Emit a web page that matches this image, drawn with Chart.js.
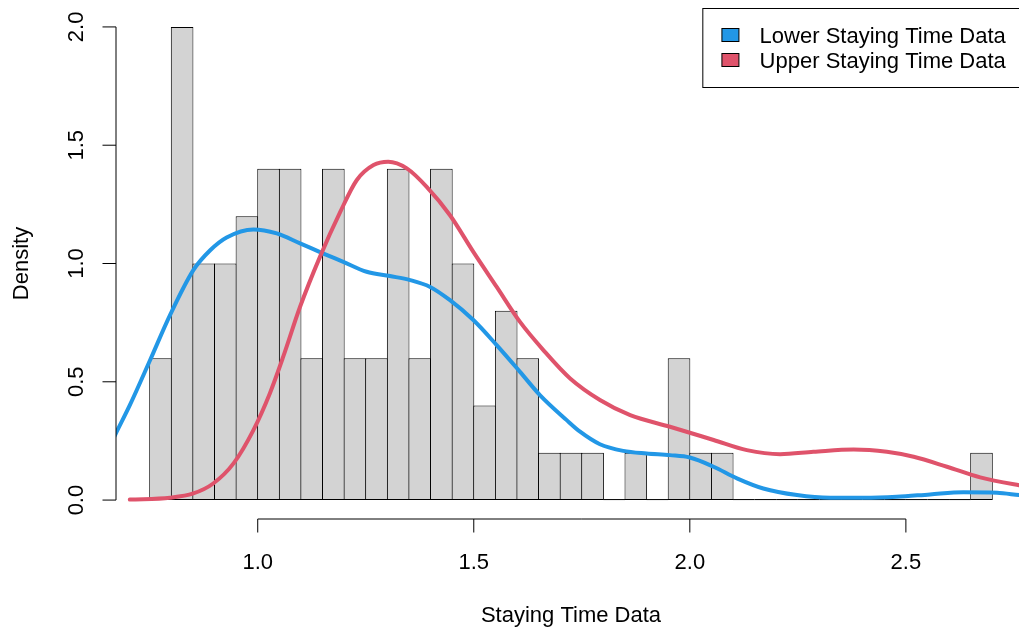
<!DOCTYPE html>
<html>
<head>
<meta charset="utf-8">
<script src="https://cdn.jsdelivr.net/npm/chart.js@4.4.1/dist/chart.umd.min.js"></script>
<style>
  html, body { margin: 0; padding: 0; background: #fff; overflow: hidden; }
  canvas { display: block; }
</style>
</head>
<body>
<canvas id="histChart" width="1026" height="631"></canvas>
<script>
// histogram bins (lower edges, width 0.05) and their densities
const binStarts = [0.75, 0.80, 0.85, 0.90, 0.95, 1.00, 1.05, 1.10, 1.15, 1.20,
  1.25, 1.30, 1.35, 1.40, 1.45, 1.50, 1.55, 1.60, 1.65, 1.70,
  1.75, 1.80, 1.85, 1.90, 1.95, 2.00, 2.05, 2.10, 2.15, 2.20,
  2.25, 2.30, 2.35, 2.40, 2.45, 2.50, 2.55, 2.60, 2.65];
const histDensity = [0.6, 2.0, 1.0, 1.0, 1.2, 1.4, 1.4, 0.6, 1.4, 0.6,
  0.6, 1.4, 0.6, 1.4, 1.0, 0.4, 0.8, 0.6, 0.2, 0.2,
  0.2, 0, 0.2, 0, 0.6, 0.2, 0.2, 0, 0, 0,
  0, 0, 0, 0, 0, 0, 0, 0, 0.2];

// density curves
const lowerX = [0.65, 0.672, 0.704, 0.751, 0.797, 0.851, 0.890, 0.928, 0.990, 1.044,
  1.098, 1.152, 1.198, 1.252, 1.306, 1.353, 1.399, 1.445, 1.499, 1.553,
  1.607, 1.653, 1.715, 1.746, 1.792, 1.846, 1.900, 1.954, 2.000, 2.055,
  2.109, 2.170, 2.248, 2.325, 2.402, 2.479, 2.556, 2.633, 2.711, 2.762, 2.79];
const lowerY = [0.20, 0.283, 0.401, 0.592, 0.782, 0.972, 1.056, 1.110, 1.144, 1.127,
  1.085, 1.042, 1.007, 0.965, 0.947, 0.930, 0.901, 0.845, 0.761, 0.655,
  0.542, 0.444, 0.338, 0.289, 0.236, 0.208, 0.197, 0.190, 0.180, 0.141,
  0.092, 0.049, 0.021, 0.010, 0.010, 0.014, 0.024, 0.033, 0.031, 0.021, 0.016];
const upperX = [0.704, 0.797, 0.851, 0.897, 0.944, 0.990, 1.028, 1.059, 1.098, 1.144,
  1.191, 1.229, 1.268, 1.302, 1.345, 1.391, 1.445, 1.499, 1.553, 1.607,
  1.661, 1.723, 1.792, 1.862, 1.954, 2.055, 2.132, 2.209, 2.286, 2.379,
  2.456, 2.518, 2.595, 2.672, 2.762, 2.79];
const upperY = [0.002, 0.01, 0.028, 0.070, 0.155, 0.296, 0.451, 0.606, 0.817, 1.028,
  1.218, 1.352, 1.416, 1.430, 1.402, 1.324, 1.204, 1.049, 0.901, 0.753,
  0.634, 0.514, 0.423, 0.359, 0.310, 0.254, 0.211, 0.194, 0.204, 0.214,
  0.204, 0.183, 0.141, 0.096, 0.063, 0.055];

const seriesNames = ["Lower Staying Time Data", "Upper Staying Time Data"];
const seriesColors = ["#2297E6", "#DF536B"];
const xTickLabels = ["1.0", "1.5", "2.0", "2.5"];
const yTickLabels = ["0.0", "0.5", "1.0", "1.5", "2.0"];
const xTitle = "Staying Time Data";
const yTitle = "Density";
const xRange = [0.75, 2.70];
const yRange = [0, 2];

const FONT = '22px "Liberation Sans", Arial, sans-serif';
const binWidth = binStarts[1] - binStarts[0];
const xPad = (xRange[1] - xRange[0]) * 0.04; // R pads the range by 4%
const yPad = (yRange[1] - yRange[0]) * 0.04;

// R style axes, titles and legend
const rPlot = {
  id: "rPlot",
  afterDatasetDraw(chart, args) {
    if (args.index !== 0) return;
    // empty cells still leave their outline on the baseline
    const ctx = chart.ctx, xs = chart.scales.x, ys = chart.scales.y;
    const y0 = ys.getPixelForValue(0);
    ctx.save();
    ctx.strokeStyle = "#000";
    ctx.lineWidth = 1;
    binStarts.forEach((s, i) => {
      if (histDensity[i] !== 0) return;
      ctx.beginPath();
      ctx.moveTo(xs.getPixelForValue(s), y0 - 0.5);
      ctx.lineTo(xs.getPixelForValue(s + binWidth), y0 - 0.5);
      ctx.stroke();
    });
    ctx.restore();
  },
  afterDraw(chart) {
    const ctx = chart.ctx, area = chart.chartArea;
    const xs = chart.scales.x, ys = chart.scales.y;
    ctx.save();
    ctx.strokeStyle = "#000";
    ctx.fillStyle = "#000";
    ctx.lineWidth = 1;
    ctx.font = FONT;

    // y axis
    const ax = area.left;
    const yFirst = ys.getPixelForValue(parseFloat(yTickLabels[0]));
    const yLast = ys.getPixelForValue(parseFloat(yTickLabels[yTickLabels.length - 1]));
    ctx.beginPath();
    ctx.moveTo(ax, yFirst);
    ctx.lineTo(ax, yLast);
    yTickLabels.forEach(t => {
      const py = ys.getPixelForValue(parseFloat(t));
      ctx.moveTo(ax, py);
      ctx.lineTo(ax - 13.5, py);
    });
    ctx.stroke();
    ctx.textAlign = "center";
    ctx.textBaseline = "alphabetic";
    yTickLabels.forEach(t => {
      const py = ys.getPixelForValue(parseFloat(t));
      ctx.save();
      ctx.translate(ax - 32.7, py);
      ctx.rotate(-Math.PI / 2);
      ctx.fillText(t, 0, 0);
      ctx.restore();
    });

    // x axis
    const ay = area.bottom;
    const xFirst = xs.getPixelForValue(parseFloat(xTickLabels[0]));
    const xLast = xs.getPixelForValue(parseFloat(xTickLabels[xTickLabels.length - 1]));
    ctx.beginPath();
    ctx.moveTo(xFirst, ay);
    ctx.lineTo(xLast, ay);
    xTickLabels.forEach(t => {
      const px = xs.getPixelForValue(parseFloat(t));
      ctx.moveTo(px, ay);
      ctx.lineTo(px, ay + 13.5);
    });
    ctx.stroke();
    xTickLabels.forEach(t => {
      ctx.fillText(t, xs.getPixelForValue(parseFloat(t)), ay + 50);
    });

    // titles
    ctx.fillText(xTitle, (area.left + area.right) / 2, ay + 102.7);
    ctx.save();
    ctx.translate(ax - 87.7, (area.top + area.bottom) / 2);
    ctx.rotate(-Math.PI / 2);
    ctx.fillText(yTitle, 0, 0);
    ctx.restore();

    // legend, top right of the plot region
    const tw = Math.max(...seriesNames.map(n => ctx.measureText(n).width));
    const right = area.right, top = area.top;
    const left = right - (tw + 77.5);
    ctx.fillStyle = "#fff";
    ctx.fillRect(left, top, right - left, 79.5);
    ctx.strokeRect(left + 0.5, top + 0.5, right - left, 79);
    ctx.textAlign = "left";
    seriesNames.forEach((n, i) => {
      const cy = top + 27 + i * 25;
      ctx.fillStyle = seriesColors[i];
      ctx.fillRect(left + 19.6, cy - 6.5, 17, 13);
      ctx.strokeRect(left + 19.6, cy - 6.5, 17, 13);
      ctx.fillStyle = "#000";
      ctx.fillText(n, left + 57.3, cy + 8);
    });
    ctx.restore();
  }
};

const histData = binStarts.map((s, i) => ({ x: s + binWidth / 2, y: histDensity[i] }));
const lowerData = lowerX.map((x, i) => ({ x: x, y: lowerY[i] }));
const upperData = upperX.map((x, i) => ({ x: x, y: upperY[i] }));

const lineStyle = {
  type: "line",
  borderWidth: 4,
  pointRadius: 0,
  fill: false,
  cubicInterpolationMode: "monotone",
  borderCapStyle: "round",
  borderJoinStyle: "round",
  clip: 0
};

new Chart(document.getElementById("histChart"), {
  type: "bar",
  data: {
    datasets: [
      {
        label: "hist",
        data: histData,
        backgroundColor: "#D3D3D3",
        borderColor: "#000",
        borderWidth: 1,
        borderSkipped: false,
        barPercentage: 1.046,
        categoryPercentage: 1,
        order: 3
      },
      Object.assign({}, lineStyle, {
        label: seriesNames[0],
        data: lowerData,
        borderColor: seriesColors[0],
        order: 2
      }),
      Object.assign({}, lineStyle, {
        label: seriesNames[1],
        data: upperData,
        borderColor: seriesColors[1],
        order: 1
      })
    ]
  },
  options: {
    responsive: false,
    animation: false,
    events: [],
    layout: { padding: { left: 116, top: 8, right: 0, bottom: 112 } },
    plugins: { legend: { display: false }, tooltip: { enabled: false } },
    scales: {
      x: { type: "linear", min: xRange[0] - xPad, max: xRange[1] + xPad, offset: false, display: false },
      y: { type: "linear", min: yRange[0] - yPad, max: yRange[1] + yPad, display: false }
    }
  },
  plugins: [rPlot]
});
</script>
</body>
</html>
